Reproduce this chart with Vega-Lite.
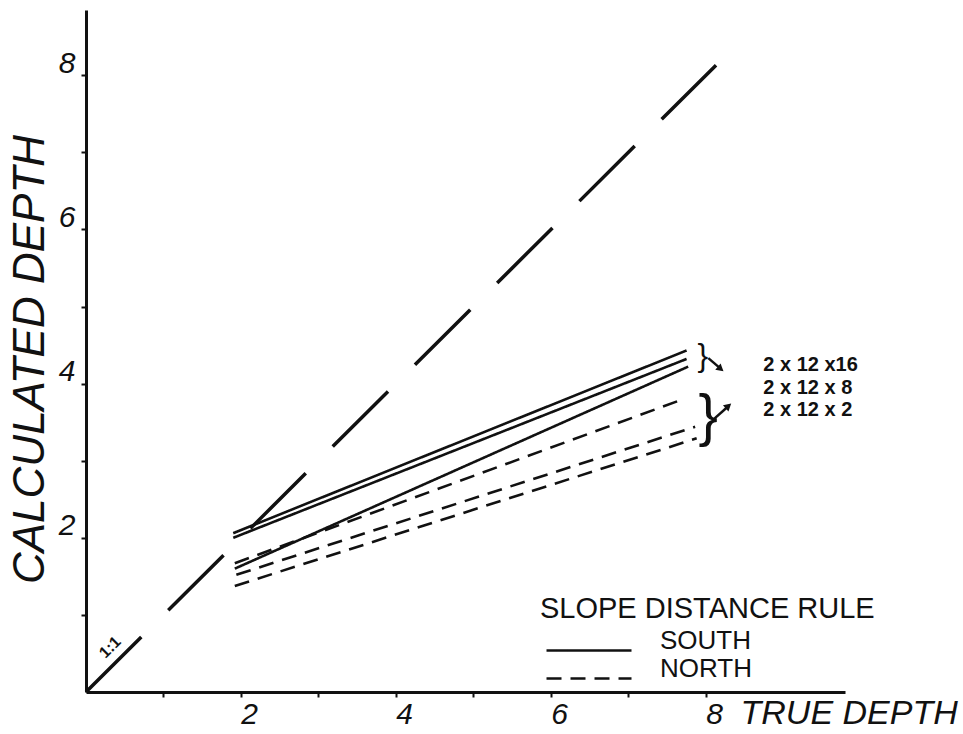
{
  "$schema": "https://vega.github.io/schema/vega-lite/v6.json",
  "width": 759,
  "height": 682,
  "autosize": {"type": "none"},
  "padding": {"left": 86, "top": 10, "right": 118, "bottom": 42},
  "background": "white",
  "config": {"view": {"stroke": null}, "font": "Liberation Sans"},
  "datasets": {
    "identity": [
      {"x": 0, "y": 0},
      {"x": 8.13, "y": 8.13}
    ],
    "lines": [
      {"side": "SOUTH", "config": "2 x 12 x16", "x": 1.9, "y": 2.06},
      {"side": "SOUTH", "config": "2 x 12 x16", "x": 7.75, "y": 4.43},
      {"side": "SOUTH", "config": "2 x 12 x 8", "x": 1.9, "y": 2.0},
      {"side": "SOUTH", "config": "2 x 12 x 8", "x": 7.75, "y": 4.32},
      {"side": "SOUTH", "config": "2 x 12 x 2", "x": 1.92, "y": 1.6},
      {"side": "SOUTH", "config": "2 x 12 x 2", "x": 7.77, "y": 4.22},
      {"side": "NORTH", "config": "2 x 12 x16", "x": 1.92, "y": 1.67},
      {"side": "NORTH", "config": "2 x 12 x16", "x": 7.71, "y": 3.8},
      {"side": "NORTH", "config": "2 x 12 x 8", "x": 1.94, "y": 1.52},
      {"side": "NORTH", "config": "2 x 12 x 8", "x": 7.86, "y": 3.44},
      {"side": "NORTH", "config": "2 x 12 x 2", "x": 1.92, "y": 1.375},
      {"side": "NORTH", "config": "2 x 12 x 2", "x": 7.88, "y": 3.29}
    ],
    "ratio": [{"x": 0.31, "y": 0.58, "text": "1:1"}],
    "configs": [
      {"x": 8.74, "y": 4.24, "text": "2 x 12 x16"},
      {"x": 8.74, "y": 3.94, "text": "2 x 12 x 8"},
      {"x": 8.74, "y": 3.66, "text": "2 x 12 x 2"}
    ],
    "braceSouth": [{"x": 7.96, "y": 4.36, "text": "}"}],
    "braceNorth": [{"x": 8.03, "y": 3.55, "text": "}"}],
    "arrows": [
      {"x": 8.03, "y": 4.33, "x2": 8.17, "y2": 4.21},
      {"x": 8.09, "y": 3.53, "x2": 8.27, "y2": 3.69}
    ],
    "headSouth": [{"x": 8.19, "y": 4.19}],
    "headNorth": [{"x": 8.29, "y": 3.71}]
  },
  "layer": [
    {
      "data": {"name": "identity"},
      "mark": {"type": "line", "strokeDash": [78, 38], "strokeWidth": 3.5, "color": "#111"},
      "encoding": {
        "x": {
          "field": "x",
          "type": "quantitative",
          "scale": {"domain": [0, 9.794], "nice": false, "zero": true},
          "axis": {
            "title": "TRUE DEPTH",
            "values": [1, 2, 3, 4, 5, 6, 7, 8],
            "format": "d",
            "labelExpr": "datum.value % 2 === 0 ? datum.label : ''",
            "grid": false,
            "domainColor": "#111",
            "domainWidth": 3,
            "tickColor": "#111",
            "tickWidth": 2,
            "tickSize": 5,
            "labelFont": "Liberation Sans",
            "labelFontStyle": "italic",
            "labelFontSize": 30,
            "labelColor": "#111",
            "labelOffset": 8,
            "labelPadding": 2,
            "labelFlush": false,
            "labelOverlap": false,
            "titleFont": "Liberation Sans",
            "titleFontStyle": "italic",
            "titleFontWeight": "normal",
            "titleFontSize": 34,
            "titleColor": "#111",
            "titleAlign": "left",
            "titleAnchor": "start",
            "titleX": 654,
            "titleY": 21,
            "titleBaseline": "middle"
          }
        },
        "y": {
          "field": "y",
          "type": "quantitative",
          "scale": {"domain": [0, 8.846], "nice": false, "zero": true},
          "axis": {
            "title": "CALCULATED DEPTH",
            "values": [1, 2, 3, 4, 5, 6, 7, 8],
            "format": "d",
            "labelExpr": "datum.value % 2 === 0 ? datum.label : ''",
            "grid": false,
            "domainColor": "#111",
            "domainWidth": 3,
            "tickColor": "#111",
            "tickWidth": 2,
            "tickSize": 5,
            "labelFont": "Liberation Sans",
            "labelFontStyle": "italic",
            "labelFontSize": 30,
            "labelColor": "#111",
            "labelOffset": -12,
            "labelPadding": 6,
            "labelFlush": false,
            "labelOverlap": false,
            "titleFont": "Liberation Sans",
            "titleFontStyle": "italic",
            "titleFontWeight": "normal",
            "titleFontSize": 44,
            "titleColor": "#111",
            "titleAngle": 270,
            "titleAlign": "center",
            "titleBaseline": "middle",
            "titleX": -56,
            "titleY": 349
          }
        }
      }
    },
    {
      "data": {"name": "lines"},
      "mark": {"type": "line", "strokeWidth": 2.6, "color": "#111"},
      "encoding": {
        "x": {"field": "x", "type": "quantitative"},
        "y": {"field": "y", "type": "quantitative"},
        "detail": {"field": "config"},
        "strokeDash": {
          "field": "side",
          "type": "nominal",
          "scale": {"domain": ["SOUTH", "NORTH"], "range": [[1, 0], [15, 9]]},
          "legend": {
            "orient": "none",
            "legendX": 454,
            "legendY": 585,
            "title": "SLOPE DISTANCE RULE",
            "titleFont": "Liberation Sans",
            "titleFontSize": 29,
            "titleFontWeight": "normal",
            "titleColor": "#111",
            "titleLimit": 1000,
            "titlePadding": 6,
            "labelFont": "Liberation Sans",
            "labelFontSize": 26,
            "labelColor": "#111",
            "labelLimit": 500,
            "symbolType": "M-0.583,0.8H6.5",
            "symbolSize": 576,
            "symbolStrokeWidth": 2.5,
            "symbolStrokeColor": "#111",
            "labelOffset": 93,
            "clipHeight": 22,
            "rowPadding": 2,
            "padding": 0
          }
        }
      }
    },
    {
      "data": {"name": "ratio"},
      "mark": {"type": "text", "angle": -45, "fontSize": 16, "fontWeight": "bold", "color": "#111"},
      "encoding": {
        "x": {"field": "x", "type": "quantitative"},
        "y": {"field": "y", "type": "quantitative"},
        "text": {"field": "text"}
      }
    },
    {
      "data": {"name": "configs"},
      "mark": {"type": "text", "align": "left", "baseline": "middle", "fontSize": 20, "fontWeight": "bold", "color": "#111"},
      "encoding": {
        "x": {"field": "x", "type": "quantitative"},
        "y": {"field": "y", "type": "quantitative"},
        "text": {"field": "text"}
      }
    },
    {
      "data": {"name": "braceSouth"},
      "mark": {"type": "text", "baseline": "middle", "fontSize": 32, "color": "#111"},
      "encoding": {
        "x": {"field": "x", "type": "quantitative"},
        "y": {"field": "y", "type": "quantitative"},
        "text": {"field": "text"}
      }
    },
    {
      "data": {"name": "braceNorth"},
      "mark": {"type": "text", "baseline": "middle", "fontSize": 58, "color": "#111"},
      "encoding": {
        "x": {"field": "x", "type": "quantitative"},
        "y": {"field": "y", "type": "quantitative"},
        "text": {"field": "text"}
      }
    },
    {
      "data": {"name": "arrows"},
      "mark": {"type": "rule", "strokeWidth": 2.5, "color": "#111"},
      "encoding": {
        "x": {"field": "x", "type": "quantitative"},
        "y": {"field": "y", "type": "quantitative"},
        "x2": {"field": "x2"},
        "y2": {"field": "y2"}
      }
    },
    {
      "data": {"name": "headSouth"},
      "mark": {"type": "point", "shape": "triangle-right", "angle": 40, "size": 70, "filled": true, "opacity": 1, "color": "#111"},
      "encoding": {
        "x": {"field": "x", "type": "quantitative"},
        "y": {"field": "y", "type": "quantitative"}
      }
    },
    {
      "data": {"name": "headNorth"},
      "mark": {"type": "point", "shape": "triangle-right", "angle": -41, "size": 70, "filled": true, "opacity": 1, "color": "#111"},
      "encoding": {
        "x": {"field": "x", "type": "quantitative"},
        "y": {"field": "y", "type": "quantitative"}
      }
    }
  ]
}
